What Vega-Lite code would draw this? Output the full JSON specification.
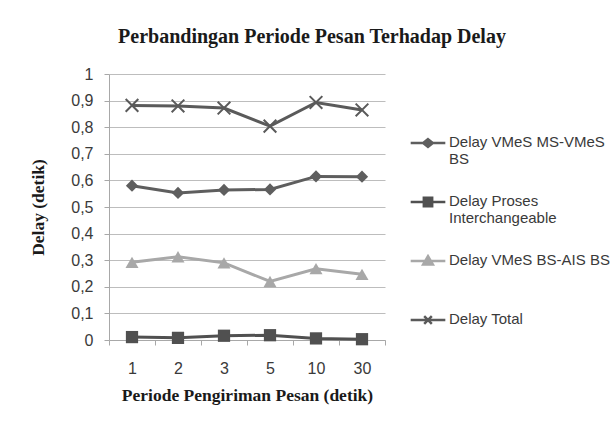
{
  "$schema": "https://vega.github.io/schema/vega-lite/v6.json",
  "width": 276,
  "height": 266,
  "padding": {"left": 29, "top": 27, "right": 5, "bottom": 5},
  "background": "white",
  "title": {
    "text": "Perbandingan Periode Pesan Terhadap Delay",
    "font": "Liberation Serif",
    "fontSize": 20,
    "fontWeight": "bold",
    "color": "#1a1a1a",
    "anchor": "middle",
    "offset": 19,
    "dx": 65
  },
  "config": {
    "view": {"stroke": null},
    "axis": {
      "labelFont": "Liberation Sans",
      "labelFontSize": 16,
      "labelColor": "#3a3a3a",
      "titleFont": "Liberation Serif",
      "titleFontSize": 17.5,
      "titleFontWeight": "bold",
      "titleColor": "#1a1a1a",
      "domainColor": "#a8a8a8",
      "tickColor": "#a8a8a8",
      "tickSize": 5
    },
    "legend": {
      "labelFont": "Liberation Sans",
      "labelFontSize": 15,
      "labelColor": "#3a3a3a"
    }
  },
  "data": {
    "values": [
      {"periode": "1", "series": "Delay VMeS MS-VMeS BS", "delay": 0.58},
      {"periode": "2", "series": "Delay VMeS MS-VMeS BS", "delay": 0.553},
      {"periode": "3", "series": "Delay VMeS MS-VMeS BS", "delay": 0.564},
      {"periode": "5", "series": "Delay VMeS MS-VMeS BS", "delay": 0.566},
      {"periode": "10", "series": "Delay VMeS MS-VMeS BS", "delay": 0.615},
      {"periode": "30", "series": "Delay VMeS MS-VMeS BS", "delay": 0.614},
      {"periode": "1", "series": "Delay Proses Interchangeable", "delay": 0.011},
      {"periode": "2", "series": "Delay Proses Interchangeable", "delay": 0.008},
      {"periode": "3", "series": "Delay Proses Interchangeable", "delay": 0.016},
      {"periode": "5", "series": "Delay Proses Interchangeable", "delay": 0.018},
      {"periode": "10", "series": "Delay Proses Interchangeable", "delay": 0.006},
      {"periode": "30", "series": "Delay Proses Interchangeable", "delay": 0.003},
      {"periode": "1", "series": "Delay VMeS BS-AIS BS", "delay": 0.292},
      {"periode": "2", "series": "Delay VMeS BS-AIS BS", "delay": 0.313},
      {"periode": "3", "series": "Delay VMeS BS-AIS BS", "delay": 0.29},
      {"periode": "5", "series": "Delay VMeS BS-AIS BS", "delay": 0.22},
      {"periode": "10", "series": "Delay VMeS BS-AIS BS", "delay": 0.268},
      {"periode": "30", "series": "Delay VMeS BS-AIS BS", "delay": 0.247},
      {"periode": "1", "series": "Delay Total", "delay": 0.882},
      {"periode": "2", "series": "Delay Total", "delay": 0.88},
      {"periode": "3", "series": "Delay Total", "delay": 0.872},
      {"periode": "5", "series": "Delay Total", "delay": 0.804},
      {"periode": "10", "series": "Delay Total", "delay": 0.893},
      {"periode": "30", "series": "Delay Total", "delay": 0.865}
    ]
  },
  "encoding": {
    "x": {
      "field": "periode",
      "type": "nominal",
      "sort": ["1", "2", "3", "5", "10", "30"],
      "axis": {
        "labelAngle": 0,
        "title": "Periode Pengiriman Pesan (detik)",
        "tickBand": "extent",
        "labelPadding": 15,
        "titlePadding": 10
      }
    },
    "y": {
      "field": "delay",
      "type": "quantitative",
      "scale": {"domain": [0, 1]},
      "axis": {
        "values": [0, 0.1, 0.2, 0.3, 0.4, 0.5, 0.6, 0.7, 0.8, 0.9, 1],
        "labelExpr": "replace(format(datum.value, '~g'), '.', ',')",
        "title": "Delay (detik)",
        "grid": true,
        "gridColor": "#bdbdbd",
        "labelPadding": 11,
        "titlePadding": 23
      }
    }
  },
  "layer": [
    {
      "transform": [{"filter": "datum.series == 'Delay VMeS MS-VMeS BS'"}],
      "mark": {"type": "line", "strokeWidth": 3, "color": "#5e5e5e",
        "point": {"shape": "diamond", "filled": true, "size": 150, "color": "#5e5e5e"}},
      "encoding": {}
    },
    {
      "transform": [{"filter": "datum.series == 'Delay Proses Interchangeable'"}],
      "mark": {"type": "line", "strokeWidth": 3, "color": "#505050",
        "point": {"shape": "square", "filled": true, "size": 150, "color": "#505050"}},
      "encoding": {}
    },
    {
      "transform": [{"filter": "datum.series == 'Delay VMeS BS-AIS BS'"}],
      "mark": {"type": "line", "strokeWidth": 3, "color": "#a8a8a8",
        "point": {"shape": "triangle-up", "filled": true, "size": 170, "color": "#a8a8a8"}},
      "encoding": {}
    },
    {
      "transform": [{"filter": "datum.series == 'Delay Total'"}],
      "mark": {"type": "line", "strokeWidth": 3, "color": "#5a5a5a",
        "point": {"shape": "M-1,-1L1,1M-1,1L1,-1", "filled": false, "size": 160, "strokeWidth": 2, "color": "#5a5a5a"}},
      "encoding": {}
    },
    {
      "transform": [{"filter": "false"}],
      "mark": {"type": "point", "filled": true, "opacity": 1},
      "encoding": {
        "color": {
          "field": "series",
          "type": "nominal",
          "scale": {
            "domain": ["Delay VMeS MS-VMeS BS", "Delay Proses Interchangeable", "Delay VMeS BS-AIS BS", "Delay Total"],
            "range": ["#5e5e5e", "#505050", "#a8a8a8", "#5a5a5a"]
          },
          "legend": {
            "title": null,
            "orient": "none",
            "legendX": 300,
            "legendY": 50,
            "symbolSize": 1200,
            "symbolStrokeWidth": 2.5,
            "symbolOpacity": 1,
            "labelBaseline": "top",
            "labelLineHeight": 23,
            "labelLimit": 220,
            "labelOffset": 2,
            "rowPadding": 16,
            "labelExpr": "datum.label == 'Delay VMeS MS-VMeS BS' ? ['Delay VMeS MS-VMeS', 'BS'] : datum.label == 'Delay Proses Interchangeable' ? ['Delay Proses', 'Interchangeable'] : [datum.label, '']",
            "encode": {"labels": {"update": {"dy": {"value": -8}}}}
          }
        },
        "stroke": {
          "field": "series",
          "type": "nominal",
          "scale": {
            "domain": ["Delay VMeS MS-VMeS BS", "Delay Proses Interchangeable", "Delay VMeS BS-AIS BS", "Delay Total"],
            "range": ["#5e5e5e", "#505050", "#a8a8a8", "#5a5a5a"]
          }
        },
        "shape": {
          "field": "series",
          "type": "nominal",
          "scale": {
            "domain": ["Delay VMeS MS-VMeS BS", "Delay Proses Interchangeable", "Delay VMeS BS-AIS BS", "Delay Total"],
            "range": [
              "M-1,0L1,0M0,-0.22L0.28,0L0,0.22L-0.28,0Z",
              "M-1,0L1,0M-0.24,-0.24L0.24,-0.24L0.24,0.24L-0.24,0.24Z",
              "M-1,0L1,0M0,-0.28L0.28,0.2L-0.28,0.2Z",
              "M-1,0L1,0M-0.22,-0.22L0.22,0.22M-0.22,0.22L0.22,-0.22"
            ]
          }
        }
      }
    }
  ]
}
